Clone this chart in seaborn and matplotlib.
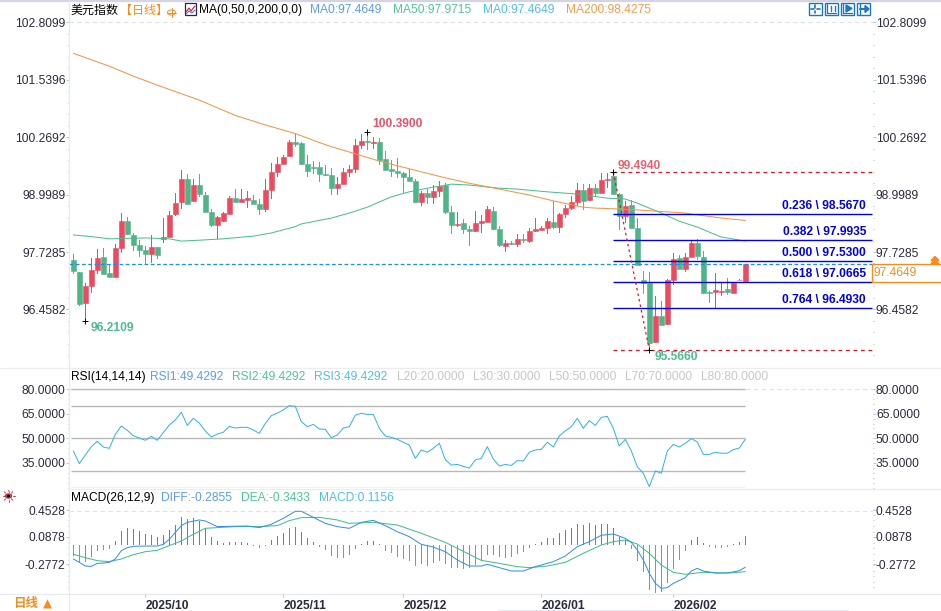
import numpy as np
import pandas as pd
import matplotlib
matplotlib.use('Agg')
import matplotlib.pyplot as plt
from matplotlib.lines import Line2D
from matplotlib.patches import Rectangle, Polygon, Circle
import seaborn as sns

# daily candles
opens = [97.55,97.29,96.60,96.98,97.33,97.62,97.26,97.18,97.82,98.41,
         98.10,97.88,97.77,97.68,97.84,98.02,98.06,98.57,98.83,99.34,
         98.86,99.21,98.99,98.61,98.33,98.41,98.57,98.92,98.83,98.88,
         98.88,98.79,98.68,99.10,99.50,99.68,99.85,100.16,100.14,99.67,
         99.61,99.61,99.45,99.43,99.14,99.23,99.50,99.56,100.10,100.18,
         100.14,100.16,99.78,99.56,99.52,99.48,99.39,99.30,98.83,99.03,
         98.95,99.08,99.21,98.61,98.33,98.37,98.24,98.19,98.37,98.39,
         98.63,98.24,97.86,97.93,97.91,98.02,97.97,98.19,98.22,98.26,
         98.39,98.28,98.57,98.70,98.83,99.10,98.88,99.14,99.03,99.32,
         99.41,99.01,98.52,98.77,98.26,97.10,97.05,95.74,96.31,96.14,
         97.11,97.60,97.35,97.62,97.93,97.62,96.84,96.84,96.84,96.91,96.82,97.10,97.09]
highs = [97.69,97.29,97.05,97.60,97.80,97.82,97.44,97.91,98.59,98.50,
         98.15,97.99,97.86,98.10,97.84,98.48,98.64,99.03,99.54,99.45,
         99.34,99.45,99.06,98.68,98.52,98.61,98.97,99.12,99.12,99.08,
         98.99,98.90,99.34,99.70,99.83,99.875,100.21,100.35,100.16,99.87,
         99.74,99.72,99.65,99.59,99.39,99.59,99.65,100.23,100.34,100.39,
         100.27,100.25,99.96,99.76,99.81,99.50,99.56,99.34,99.08,99.12,
         99.21,99.30,99.25,98.75,98.61,98.46,98.30,98.63,98.55,98.75,
         98.72,98.30,97.99,97.97,98.13,98.13,98.26,98.48,98.30,98.48,
         98.86,98.59,98.77,98.97,99.25,99.23,99.23,99.23,99.48,99.48,
         99.494,99.03,98.86,98.88,98.48,97.31,97.28,96.75,96.64,97.13,
         97.71,97.66,97.71,97.99,98.02,97.75,96.87,97.26,97.04,97.15,97.06,97.13,97.4649]
lows = [97.24,96.54,96.2109,96.82,97.24,97.24,97.18,97.18,97.71,98.10,
        97.75,97.62,97.44,97.49,97.57,97.93,98.06,98.52,98.68,98.79,
        98.84,98.95,98.61,98.28,98.02,98.39,98.57,98.83,98.83,98.70,
        98.79,98.55,98.61,98.90,99.39,99.68,99.85,100.05,99.65,99.39,
        99.45,99.28,99.41,98.99,98.99,99.23,99.39,99.48,100.01,99.98,
        100.01,99.65,99.54,99.39,99.37,99.03,99.30,98.81,98.75,98.79,
        98.79,98.95,98.57,98.13,98.28,98.13,97.86,98.17,98.15,98.39,
        98.22,97.84,97.73,97.88,97.84,97.93,97.93,98.17,98.22,98.13,
        98.24,98.15,98.48,98.66,98.75,98.66,98.86,98.95,99.03,99.14,
        98.99,98.22,98.37,98.26,97.44,96.80,95.566,95.71,96.11,96.11,
        97.00,97.35,97.29,97.62,97.55,96.80,96.60,96.49,96.75,96.78,96.82,97.10,97.04]
closes = [97.31,96.58,96.98,97.33,97.60,97.24,97.18,97.82,98.41,98.13,
          97.88,97.77,97.68,97.84,97.66,98.06,98.55,98.81,99.34,98.79,
          99.21,99.01,98.61,98.33,98.50,98.59,98.92,98.83,98.90,98.92,
          98.79,98.68,99.10,99.50,99.68,99.83,100.16,100.12,99.67,99.52,
          99.59,99.45,99.43,99.14,99.23,99.50,99.56,100.10,100.18,100.16,
          100.16,99.76,99.54,99.52,99.48,99.39,99.30,98.83,99.03,98.95,
          99.08,99.19,98.61,98.33,98.35,98.24,98.19,98.37,98.41,98.68,
          98.24,97.88,97.93,97.91,98.02,97.99,98.19,98.24,98.26,98.41,
          98.28,98.57,98.70,98.83,99.10,98.86,99.14,99.03,99.32,99.34,
          99.01,98.52,98.75,98.26,97.44,97.04,95.71,96.31,96.11,97.11,
          97.57,97.35,97.62,97.93,97.64,96.82,96.82,96.89,96.87,96.84,97.04,97.12,97.4649]

# moving averages, sampled at these candle numbers
ma200_idx = [0,6,10,14,21,27,32,37,41,43,47,51,56,62,66,71,76,80,85,87,91,94,102,104,108,112]
ma200 = [102.125,101.84,101.62,101.42,101.09,100.75,100.54,100.35,100.15,100.06,99.90,99.74,99.57,
         99.37,99.25,99.12,98.99,98.86,98.72,98.70,98.68,98.66,98.59,98.55,98.48,98.4275]
ma50_idx = [0,3,6,12,16,18,21,25,30,33,37,38,43,46,49,53,56,59,63,66,71,74,79,84,89,92,94,98,101,104,108,112]
ma50 = [98.105,98.07,98.02,98.04,98.02,97.97,97.99,98.02,98.08,98.15,98.29,98.35,98.48,98.59,98.72,98.95,
        99.06,99.14,99.23,99.21,99.14,99.12,99.06,99.01,98.92,98.90,98.81,98.59,98.41,98.28,98.06,97.9715]

rsi = [42.3,34.6,39.8,44.9,48.2,44.7,43.9,52.4,57.5,54.9,51.6,50.2,48.8,51.2,48.8,53.5,58.1,61.2,65.9,57.9,
       62.2,59.3,54.5,50.8,52.6,53.7,57.3,56.3,56.7,56.7,55.1,53.0,59.1,63.8,65.4,67.3,69.9,69.5,60.2,57.1,
       58.5,55.7,55.5,50.4,52.0,56.3,57.1,64.2,65.2,64.6,64.6,56.1,51.4,50.6,49.4,47.6,45.9,37.8,42.9,41.5,
       43.9,47.0,37.0,33.7,34.1,32.9,31.9,36.8,37.8,44.9,37.4,33.1,34.1,33.5,36.4,36.2,41.5,42.9,43.3,47.6,
       44.7,51.4,54.5,57.1,62.2,56.1,60.8,57.9,62.8,63.4,56.1,45.3,49.4,42.3,32.7,28.7,20.5,30.1,28.7,42.3,
       46.3,44.7,47.0,49.8,47.8,40.2,40.2,41.5,40.9,40.9,43.1,44.1,49.4292]
rsi_levels = [20, 30, 50, 70, 80]
rsi_ticks = [80, 65, 50, 35]

macd_hist = [-0.135,-0.222,-0.222,-0.148,-0.074,-0.061,-0.052,0.061,0.187,0.230,0.213,0.187,0.148,0.135,0.113,0.135,
             0.200,0.265,0.370,0.339,0.352,0.317,0.222,0.113,0.061,0.035,0.043,0.043,0.043,0.030,-0.009,-0.035,
             -0.009,0.070,0.122,0.165,0.230,0.239,0.178,0.100,0.048,-0.017,-0.061,-0.143,-0.161,-0.161,-0.126,-0.048,
             0.022,0.057,0.061,0.022,-0.074,-0.104,-0.148,-0.178,-0.204,-0.274,-0.248,-0.270,-0.230,-0.204,-0.239,-0.300,
             -0.291,-0.309,-0.300,-0.257,-0.204,-0.126,-0.126,-0.148,-0.161,-0.152,-0.113,-0.083,-0.039,0.017,0.048,0.100,
             0.100,0.157,0.200,0.222,0.278,0.265,0.291,0.265,0.278,0.274,0.222,0.113,0.070,-0.048,-0.204,-0.343,-0.583,
             -0.626,-0.604,-0.496,-0.309,-0.191,-0.074,0.070,0.109,0.026,-0.022,-0.030,-0.030,-0.022,0.017,0.048,0.1156]
diff_idx = [0,1,2,3,4,5,6,7,8,9,10,12,14,15,16,18,19,21,22,24,26,29,31,33,35,37,38,40,42,44,46,48,50,52,54,56,58,60,62,64,66,
            68,69,71,73,75,77,80,82,84,86,88,90,92,93,94,95,96,97,98,99,100,102,103,104,105,107,109,111,112]
diff = [-0.178,-0.222,-0.270,-0.274,-0.235,-0.231,-0.222,-0.178,-0.070,-0.030,-0.013,-0.009,-0.009,0.013,0.078,0.257,0.300,
        0.331,0.318,0.244,0.248,0.252,0.231,0.274,0.352,0.444,0.444,0.365,0.287,0.244,0.222,0.300,0.326,0.257,0.178,0.113,
        0.013,-0.022,-0.083,-0.191,-0.270,-0.270,-0.248,-0.291,-0.335,-0.335,-0.278,-0.213,-0.139,-0.017,0.048,0.131,0.148,
        0.091,0.039,-0.061,-0.191,-0.365,-0.496,-0.561,-0.552,-0.496,-0.422,-0.335,-0.300,-0.335,-0.361,-0.361,-0.331,-0.2855]
dea_idx = [0,2,4,6,8,10,12,14,16,18,20,22,24,27,31,34,36,38,41,44,46,50,54,58,62,66,68,71,74,76,79,82,85,88,90,92,94,96,98,100,102,105,108,110,112]
dea = [-0.117,-0.161,-0.200,-0.213,-0.178,-0.122,-0.083,-0.065,-0.004,0.057,0.144,0.222,0.231,0.244,0.244,0.257,0.322,0.361,
       0.365,0.331,0.287,0.300,0.265,0.157,0.039,-0.117,-0.196,-0.235,-0.278,-0.291,-0.270,-0.222,-0.104,0.004,0.048,0.070,
       0.017,-0.104,-0.257,-0.352,-0.378,-0.352,-0.361,-0.357,-0.3433]

price_ticks = [102.8099, 101.5396, 100.2692, 98.9989, 97.7285, 96.4582]
macd_ticks = [0.4528, 0.0878, -0.2772]
fib_ratio = [0.236, 0.382, 0.500, 0.618, 0.764]
fib_level = [98.5670, 97.9935, 97.5300, 97.0665, 96.4930]
fib_high, fib_low = 99.4940, 95.5660
swing_high, swing_low = 100.3900, 96.2109
last_price = 97.4649
month_idx = [12, 35, 55, 78, 100]
month_lab = ['2025/10', '2025/11', '2025/12', '2026/01', '2026/02']

UP, DOWN = '#ec4a5e', '#4fb587'
ORANGE = '#f98b1e'
TXT = '#2b2b3d'
FS = 8.64   # 12 px at dpi 100
LW = 0.72   # 1 px
THIN = 0.17 # one candle step is 6 px, so this is a 1 px bar

sns.set_theme(style='white')
plt.rcParams['font.family'] = ['Liberation Sans', 'Noto Sans CJK SC', 'DejaVu Sans']
plt.rcParams['axes.unicode_minus'] = False
CJK = ['Noto Sans CJK SC', 'DejaVu Sans']

W, H = 941, 611
fig = plt.figure(figsize=(9.41, 6.11), dpi=100, facecolor='white')

def fx(x): return x / W
def fy(y): return 1 - y / H
def label(x, y, s, color='black', **kw):
    fig.text(fx(x), fy(y), s, color=color, fontsize=kw.pop('fontsize', FS), va='center', **kw)
def fline(xs, ys, color, lw=0.8, **kw):
    fig.add_artist(Line2D([fx(a) for a in xs], [fy(b) for b in ys], color=color, lw=lw, **kw))

L, R = 69, 872.5
def pane(top, bottom):
    a = fig.add_axes([fx(L), fy(bottom), fx(R - L), (bottom - top) / H])
    a.set_facecolor('none')
    a.set_xlim((L - 73.3) / 6, (R - 73.3) / 6)
    for s in a.spines.values():
        s.set_visible(False)
    a.set_xticks([])
    return a

def y_axis(a, ticks, labels, minor):
    a.set_yticks(ticks)
    a.set_yticklabels(labels)
    a.set_yticks(minor, minor=True)
    a.tick_params(axis='y', which='major', left=True, right=True, labelleft=True, labelright=True,
                  length=2, width=0.7, color='#a9cce8', pad=0.5, labelsize=FS, labelcolor=TXT)
    a.tick_params(axis='y', which='minor', left=True, right=True, length=1, width=0.8, color='#bcbcbc')

# ---- price pane
ax = pane(0, 367)
ax.set_ylim(103.304 - 0.022124 * 367, 103.304)
df = pd.DataFrame({'i': np.arange(len(opens)), 'open': opens, 'high': highs, 'low': lows, 'close': closes})
df['color'] = np.where(df['close'] >= df['open'], UP, DOWN)
ax.bar(df['i'], df['high'] - df['low'], bottom=df['low'], width=THIN, color=df['color'], linewidth=0, zorder=2)
ax.bar(df['i'], (df['close'] - df['open']).abs(), bottom=df[['open', 'close']].min(axis=1), width=0.76,
       color=df['color'], edgecolor=df['color'], linewidth=0.4, zorder=2)
sns.lineplot(x=ma50_idx, y=ma50, ax=ax, color='#45c08c', lw=LW, zorder=3, estimator=None)
sns.lineplot(x=ma200_idx, y=ma200, ax=ax, color='#f8913c', lw=LW, zorder=3, estimator=None)
ax.set_xlabel('')
ax.set_ylabel('')

step = price_ticks[0] - price_ticks[1]
y_axis(ax, price_ticks, ['%.4f' % v for v in price_ticks],
       [price_ticks[-1] + k * step / 5 - step for k in range(31) if k % 5])
ax.axhline(price_ticks[0], color='#e2e2e2', lw=0.8, ls=(0, (4, 3)), zorder=1)
ax.axhline(last_price, color='#1a8cff', lw=0.9, ls=(0, (3, 2)), zorder=3)

# fibonacci retracement
fib_x0 = 90
ax.hlines(fib_level, fib_x0, ax.get_xlim()[1], color='#0000ee', lw=1.0, zorder=4)
ax.hlines([fib_high, fib_low], fib_x0, ax.get_xlim()[1], color='#e8101c', lw=0.9, ls=(0, (3, 3)), zorder=4)
ax.plot([90, 96], [fib_high, fib_low], color='#e8101c', lw=0.9, ls=(0, (2, 2.5)), zorder=4)
for r, lv in zip(fib_ratio, fib_level):
    ax.annotate('%.3f \\ %.4f' % (r, lv), xy=((866 - 73.3) / 6, lv), xytext=(0, 7.7), textcoords='offset pixels',
                ha='right', va='center', fontsize=FS, fontweight='bold', color='#0000ee', zorder=5)

# swing points
for i, p, s, col, dx, dy in [(49, swing_high, '100.3900', '#ef4f66', 5.4, 7.6),
                             (2, swing_low, '96.2109', '#4dbd8d', 5.4, -7.6),
                             (90, fib_high, '99.4940', '#ef5f6f', 4.7, 6.7),
                             (96, fib_low, '95.5660', '#4dbd8d', 5, -7.7)]:
    ax.plot([i], [p], marker='+', ms=5, mew=0.7, color='black', zorder=6, ls='none')
    ax.annotate(s, xy=(i, p), xytext=(dx, dy), textcoords='offset pixels', ha='left', va='center',
                fontsize=FS, fontweight='bold', color=col, zorder=6)

# ---- RSI pane
ax2 = pane(367, 488)
ax2.set_ylim(50 - (488 - 438.33) / 1.64, 50 + (438.33 - 367) / 1.64)
ax2.hlines(rsi_levels, 0 - 0.4, len(rsi) - 1, color='#b9b9b9', lw=1.0, zorder=1)
sns.lineplot(x=np.arange(len(rsi)), y=rsi, ax=ax2, color='#2fb4ea', lw=LW, zorder=3, estimator=None)
ax2.set_xlabel('')
ax2.set_ylabel('')
ax2.axhline(rsi_ticks[0], color='#e2e2e2', lw=0.8, ls=(0, (4, 3)), zorder=0)
y_axis(ax2, rsi_ticks, ['%.4f' % v for v in rsi_ticks], [v + k * 3 for v in [20, 35, 50, 65] for k in range(1, 5)] + [20])

# ---- MACD pane
ax3 = pane(488, 593)
ax3.set_ylim((545.33 - 593) / 76.67, (545.33 - 488) / 76.67)
hist_col = [UP if v >= 0 else DOWN for v in macd_hist]
ax3.bar(np.arange(len(macd_hist)), macd_hist, width=THIN, color=hist_col, linewidth=0, zorder=2)
sns.lineplot(x=dea_idx, y=dea, ax=ax3, color='#3cc084', lw=LW, zorder=3, estimator=None)
sns.lineplot(x=diff_idx, y=diff, ax=ax3, color='#2f8ff5', lw=LW, zorder=3, estimator=None)
ax3.set_xlabel('')
ax3.set_ylabel('')
ax3.axhline(macd_ticks[0], color='#e2e2e2', lw=0.8, ls=(0, (4, 3)), zorder=0)
# the source prints these labels a little above their true level
y_axis(ax3, [macd_ticks[0] + 0.006, macd_ticks[1] + 0.025, macd_ticks[2] + 0.03], ['%.4f' % v for v in macd_ticks],
       list(np.arange(-0.55, 0.5, 0.073)))
ax3.set_xlim((L - 73.3) / 6, (R - 73.3) / 6)
ax3.set_xticks(month_idx)
ax3.set_xticklabels(month_lab, ha='left', fontweight='bold', fontsize=FS, color=TXT)
ax3.tick_params(axis='x', bottom=True, length=3, width=0.8, color='#c4c8cc', pad=2)

# ---- frame lines
fline([0, W], [0.6, 0.6], '#d4d4e2', lw=1.6)
fline([69, 69], [0, 611], '#e6e9ee', lw=0.9)
fline([0, W], [367.5, 367.5], '#e9eff1', lw=0.9)
fline([69, W], [488.5, 488.5], '#e9eff1', lw=0.9)
fline([0, W], [593.5, 593.5], '#e6ebee', lw=0.9)
fline([498, 848], [610, 610], '#e6e9ee', lw=0.9)

# ---- last price box on the right
fline([871.5, W], [264, 264], ORANGE, lw=1.0)
fline([871.5, W], [282, 282], ORANGE, lw=1.0)
fline([871.5, 871.5], [264, 282], ORANGE, lw=1.0)
label(873, 273, '%.4f' % last_price, ORANGE)
for top in (256.5, 259.5):
    fig.add_artist(Polygon([(fx(931), fy(top + 4)), (fx(939), fy(top + 4)), (fx(935), fy(top))], color=ORANGE))

# ---- header lines
label(71, 10, '美元指数', 'black', fontfamily=CJK)
label(120, 10, '【日线】', ORANGE, fontfamily=CJK)
fig.add_artist(Circle((fx(171.5), fy(12.5)), 4 / W, fill=False, ec=ORANGE, lw=0.7))
fline([167, 176], [12.5, 12.5], ORANGE, lw=0.7)
fline([171.5, 171.5], [8, 17], ORANGE, lw=0.7)
fig.add_artist(Rectangle((fx(185), fy(15)), 11 / W, 12 / H, fill=False, ec='#23236e', lw=0.9))
fline([186, 189, 191, 195], [12, 8, 11, 6], '#e8101c', lw=0.8)
fline([186, 189, 192, 195], [14, 11, 13, 10], '#2f6fd8', lw=0.7)
label(199, 10, 'MA(0,50,0,200,0,0)')
label(310, 10, 'MA0:97.4649', '#5a9cf8')
label(393, 10, 'MA50:97.9715', '#4fc795')
label(483, 10, 'MA0:97.4649', '#52bdf0')
label(566, 10, 'MA200:98.4275', '#fa9a4b')

label(71, 377, 'RSI(14,14,14)')
for x, s, c in [(150, 'RSI1:49.4292', '#5a9cf8'), (232, 'RSI2:49.4292', '#4fc795'), (314, 'RSI3:49.4292', '#52bdf0'),
                (397, 'L20:20.0000', '#c6c6c6'), (473, 'L30:30.0000', '#c6c6c6'), (549, 'L50:50.0000', '#c6c6c6'),
                (625, 'L70:70.0000', '#c6c6c6'), (701, 'L80:80.0000', '#c6c6c6')]:
    label(x, 377, s, c)

label(71, 498, 'MACD(26,12,9)')
for x, s, c in [(161.5, 'DIFF:-0.2855', '#5a9cf8'), (240.5, 'DEA:-0.3433', '#4fc795'), (319, 'MACD:0.1156', '#52bdf0')]:
    label(x, 498, s, c)

# little sun icon next to the MACD pane
fig.add_artist(Circle((fx(8.5), fy(496)), 3.2 / W, fill=False, ec='#e8101c', lw=0.8))
fig.add_artist(Circle((fx(8.5), fy(496)), 1.4 / W, color='black'))
for a in np.arange(0, 2 * np.pi, np.pi / 4):
    fline([8.5 + 4 * np.cos(a), 8.5 + 6 * np.cos(a)], [496 + 4 * np.sin(a), 496 + 6 * np.sin(a)], '#e8101c', lw=0.6)

label(13, 603, '日线', ORANGE, fontweight='bold', fontsize=9, fontfamily=CJK)
label(43, 604, '▲', ORANGE, fontsize=8.5, fontfamily=['DejaVu Sans'])

# toolbar icons, top right
BLUE = '#1976c8'
for x0 in (808.5, 824.5, 840.5, 856.5):
    fig.add_artist(Rectangle((fx(x0), fy(15)), 13 / W, 12 / H, fill=False, ec=BLUE, lw=1.0))
fline([811, 814], [9, 9], BLUE, lw=1.2)
fline([817, 820], [9, 9], BLUE, lw=1.2)
fline([815, 815], [5, 7.5], BLUE, lw=1.2)
fline([815, 815], [10.5, 13], BLUE, lw=1.2)
fline([827, 827, 836], [4, 13, 13], BLUE, lw=0.9)
fline([831, 831], [6, 11], BLUE, lw=1.0)
fline([835, 835], [6, 11], BLUE, lw=1.0)
fline([843, 843, 852], [4, 13, 13], BLUE, lw=0.9)
fig.add_artist(Polygon([(fx(846), fy(5)), (fx(846), fy(12)), (fx(852), fy(8.5))], color=BLUE))
fline([860, 860], [4, 14], BLUE, lw=1.0)
fline([860, 866], [9, 9], BLUE, lw=1.4)
fig.add_artist(Polygon([(fx(865), fy(5.5)), (fx(865), fy(12.5)), (fx(869), fy(9))], color=BLUE))

fig.savefig('out.png', dpi=100)
